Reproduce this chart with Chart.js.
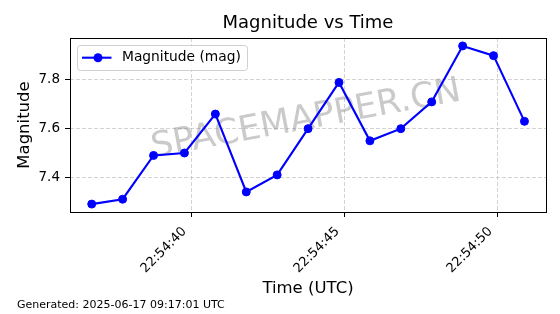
<!DOCTYPE html>
<html>
<head>
<meta charset="utf-8">
<script src="https://cdn.jsdelivr.net/npm/chart.js@4.4.0/dist/chart.umd.min.js"></script>
<style>
  html, body { margin: 0; padding: 0; background: #fff; }
</style>
</head>
<body>
<canvas id="magChart" width="560" height="314"></canvas>
<script>
const timeLabels = [
    '22:54:36.740', '22:54:37.750', '22:54:38.761', '22:54:39.771', '22:54:40.782',
    '22:54:41.792', '22:54:42.802', '22:54:43.813', '22:54:44.823', '22:54:45.834',
    '22:54:46.844', '22:54:47.854', '22:54:48.865', '22:54:49.875', '22:54:50.886'
];
const magnitudes = [7.29, 7.31, 7.49, 7.50, 7.66, 7.34, 7.41, 7.60, 7.79, 7.55, 7.60, 7.71, 7.94, 7.90, 7.63];
const xTickLabels = ['22:54:40', '22:54:45', '22:54:50'];
const yTickValues = [7.4, 7.6, 7.8];
const seriesLabel = 'Magnitude (mag)';
const chartTitle = 'Magnitude vs Time';
const generatedText = 'Generated: 2025-06-17 09:17:01 UTC';
const watermarkText = 'SPACEMAPPER.CN';

const FONT = 'DejaVu Sans';

function toSec(t) {
    const p = t.split(':');
    return (+p[0]) * 3600 + (+p[1]) * 60 + parseFloat(p[2]);
}
function pad2(n) { return String(n).padStart(2, '0'); }
function fmtTime(s) {
    s = Math.round(s);
    return pad2(Math.floor(s / 3600)) + ':' + pad2(Math.floor(s / 60) % 60) + ':' + pad2(s % 60);
}

const points = timeLabels.map((t, i) => ({ x: toSec(t), y: magnitudes[i] }));

// watermark, frame and in-plot legend
const decor = {
    id: 'decor',
    beforeDatasetsDraw(chart) {
        const { ctx } = chart;
        ctx.save();
        ctx.translate(306, 120);
        ctx.rotate(-10.5 * Math.PI / 180);
        ctx.font = '35px "' + FONT + '"';
        ctx.fillStyle = 'rgba(128,128,128,0.42)';
        ctx.textAlign = 'center';
        ctx.textBaseline = 'middle';
        ctx.fillText(watermarkText, 0, 0);
        ctx.restore();
    },
    afterDraw(chart) {
        const { ctx, chartArea: a } = chart;
        ctx.save();
        ctx.strokeStyle = '#000';
        ctx.lineWidth = 1;
        ctx.strokeRect(Math.round(a.left) + 0.5, Math.round(a.top) + 0.5,
            Math.round(a.right - a.left), Math.round(a.bottom - a.top));

        const ds = chart.data.datasets[0];
        const x0 = a.left + 7, y0 = a.top + 7;
        ctx.beginPath();
        ctx.roundRect(x0 + 0.5, y0 + 0.5, 170, 25, 3);
        ctx.fillStyle = 'rgba(255,255,255,0.8)';
        ctx.fill();
        ctx.strokeStyle = '#d0d0d0';
        ctx.stroke();

        const ly = y0 + 12.7;
        ctx.beginPath();
        ctx.moveTo(x0 + 5, ly);
        ctx.lineTo(x0 + 34.5, ly);
        ctx.strokeStyle = ds.borderColor;
        ctx.lineWidth = ds.borderWidth;
        ctx.stroke();
        ctx.beginPath();
        ctx.arc(x0 + 21, ly, 4.5, 0, Math.PI * 2);
        ctx.fillStyle = ds.pointBackgroundColor;
        ctx.fill();

        ctx.font = '13.8px "' + FONT + '"';
        ctx.fillStyle = '#000';
        ctx.textAlign = 'left';
        ctx.textBaseline = 'middle';
        ctx.fillText(ds.label, x0 + 45, ly);
        ctx.restore();
    }
};

Chart.defaults.font.family = FONT;
Chart.defaults.color = '#000';

const ctx = document.getElementById('magChart').getContext('2d');
const chart = new Chart(ctx, {
    type: 'line',
    data: {
        datasets: [{
            label: seriesLabel,
            data: points,
            borderColor: 'rgb(0,0,255)',
            backgroundColor: 'rgb(0,0,255)',
            pointBackgroundColor: 'rgb(0,0,255)',
            pointBorderColor: 'rgb(0,0,255)',
            borderWidth: 2.1,
            pointRadius: 4,
            pointBorderWidth: 1,
            tension: 0,
            fill: false
        }]
    },
    options: {
        responsive: false,
        animation: false,
        devicePixelRatio: 1,
        layout: { padding: { left: 17, right: 14, top: 0, bottom: 0 } },
        plugins: {
            legend: { display: false },
            tooltip: { enabled: false },
            title: {
                display: true,
                text: chartTitle,
                fullSize: false,
                font: { size: 18, weight: 'normal' },
                padding: { top: 13, bottom: 3.4 }
            },
            subtitle: {
                display: true,
                text: generatedText,
                position: 'bottom',
                align: 'start',
                font: { size: 11, weight: 'normal' },
                padding: { top: 0, bottom: 2.2 }
            }
        },
        scales: {
            x: {
                type: 'linear',
                min: toSec('22:54:36.03'),
                max: toSec('22:54:51.59'),
                afterBuildTicks: axis => {
                    axis.ticks = xTickLabels.map(t => ({ value: toSec(t) }));
                },
                afterFit: axis => { axis.height = 86.6; },
                ticks: {
                    minRotation: 45,
                    maxRotation: 45,
                    padding: 7,
                    labelOffset: -7,
                    font: { size: 13 },
                    callback: v => fmtTime(v)
                },
                grid: {
                    color: 'rgba(176,176,176,0.7)',
                    lineWidth: 0.8,
                    tickColor: '#000',
                    tickLength: 5,
                    tickWidth: 1
                },
                border: { display: false, dash: [4, 2] },
                title: {
                    display: true,
                    text: 'Time (UTC)',
                    font: { size: 16.5 },
                    padding: { top: 0, bottom: 0.4 }
                }
            },
            y: {
                min: 7.2575,
                max: 7.9725,
                afterBuildTicks: axis => {
                    axis.ticks = yTickValues.map(v => ({ value: v }));
                },
                afterFit: axis => { axis.width = 53; },
                ticks: {
                    padding: 5,
                    font: { size: 13.5 },
                    callback: v => v.toFixed(1)
                },
                grid: {
                    color: 'rgba(176,176,176,0.7)',
                    lineWidth: 0.8,
                    tickColor: '#000',
                    tickLength: 5,
                    tickWidth: 1
                },
                border: { display: false, dash: [4, 2] },
                title: {
                    display: true,
                    text: 'Magnitude',
                    font: { size: 16.5 },
                    padding: { top: -2, bottom: 0 }
                }
            }
        }
    },
    plugins: [decor]
});
</script>
</body>
</html>
